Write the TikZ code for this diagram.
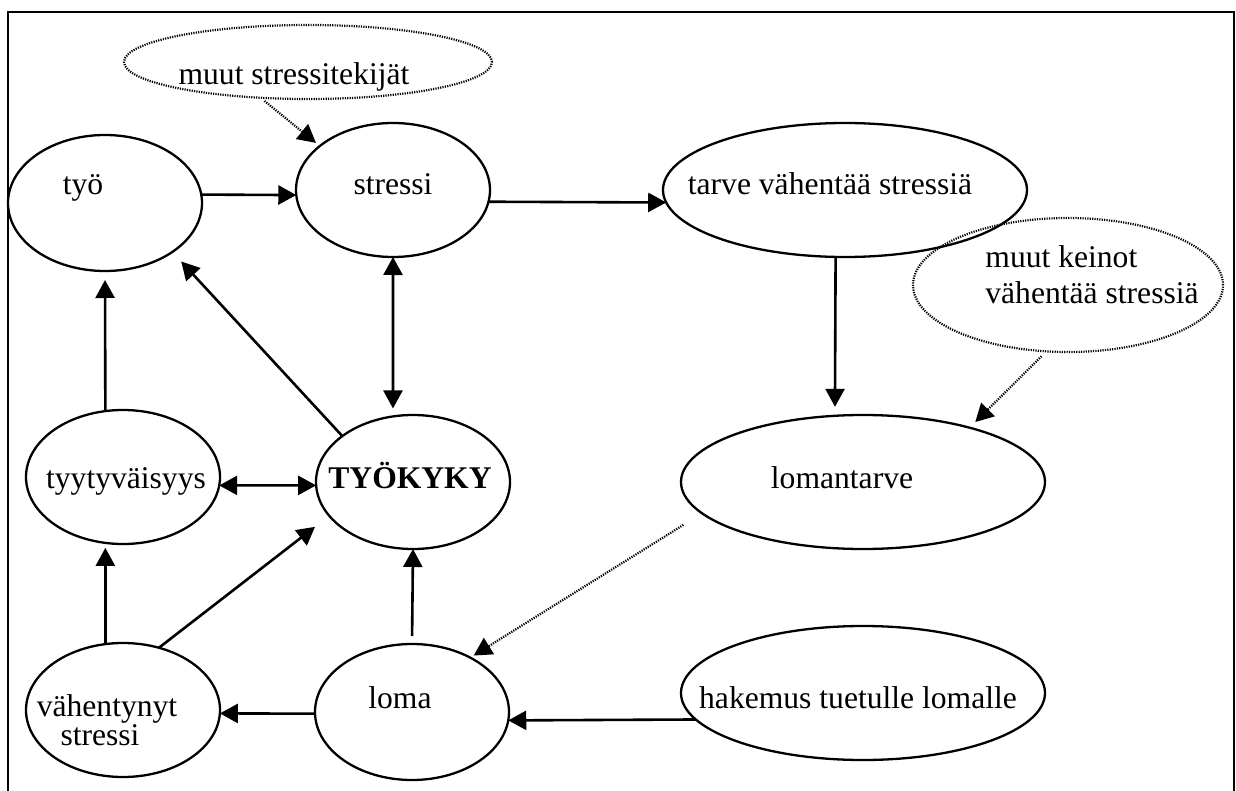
\documentclass[tikz,border=0pt]{standalone}
\usepackage{fontspec}
\setmainfont{Liberation Serif}
\usetikzlibrary{shapes.geometric,arrows.meta}
\newcommand\lbfont{\fontsize{15.8}{18}\selectfont}
\begin{document}
\begin{tikzpicture}[x=0.5pt,y=-0.5pt,
  bubble/.style={draw, ellipse, line width=1.15pt, inner sep=0pt, outer sep=0pt},
  dotbubble/.style={bubble, line width=1.1pt, dash pattern=on 0.6pt off 0.6pt},
  lbl/.style={anchor=base, inner sep=0pt, font=\lbfont},
  tip/.style={-{Triangle[length=9pt,width=9.5pt]}},
  arr/.style={line width=1.3pt, tip},
  darr/.style={line width=1.3pt, {Triangle[length=9pt,width=9.5pt]}-{Triangle[length=9pt,width=9.5pt]}},
  dotarr/.style={line width=1.1pt, dash pattern=on 0.6pt off 0.6pt, tip}]
\useasboundingbox (0,0) rectangle (1236,791);

% frame (open at the bottom edge of the page)
\draw[line width=1.1pt] (8,795) -- (8,12) -- (1234,12) -- (1234,795);

% ellipses
\node[dotbubble, minimum width=184pt, minimum height=37pt] (muut1) at (308,62) {};
\node[bubble, minimum width=97pt, minimum height=68pt] (tyo) at (105,203) {};
\node[bubble, minimum width=97pt, minimum height=67pt] (stressi) at (393,190) {};
\node[bubble, minimum width=182pt, minimum height=67pt] (tarve) at (845,190) {};
\node[dotbubble, minimum width=155pt, minimum height=67pt] (muut2) at (1068,285) {};
\node[bubble, minimum width=97pt, minimum height=67pt] (tyyt) at (123,477) {};
\node[bubble, minimum width=97pt, minimum height=67pt] (tyokyky) at (413,482) {};
\node[bubble, minimum width=182pt, minimum height=67pt] (lomantarve) at (863,482) {};
\node[bubble, minimum width=97pt, minimum height=67pt] (vahent) at (123,710) {};
\node[bubble, minimum width=97pt, minimum height=68pt] (loma) at (412,712) {};
\node[bubble, minimum width=182pt, minimum height=67pt] (hakemus) at (863,693) {};

% labels
\node[lbl] (tmuut1) at (294,85) {muut stressitekijät};
\node[lbl] (ttyo) at (83,195) {työ};
\node[lbl] (tstressi) at (393,195) {stressi};
\node[lbl] (ttarve) at (830,195) {tarve vähentää stressiä};
\node[lbl, anchor=base west] (tmuut2a) at (985,268) {muut keinot};
\node[lbl, anchor=base west] (tmuut2b) at (985,303) {vähentää stressiä};
\node[lbl] (ttyyt) at (126,488) {tyytyväisyys};
\node[lbl] (ttyokyky) at (410,488) {\bfseries TYÖKYKY};
\node[lbl] (tlomantarve) at (842,488) {lomantarve};
\node[lbl] (tvahenta) at (107,716) {vähentynyt};
\node[lbl] (tvahentb) at (100,745) {stressi};
\node[lbl] (tloma) at (400,708) {loma};
\node[lbl] (thakemus) at (858,708) {hakemus tuetulle lomalle};

% connectors
\draw[arr] (tyo.5) -- (stressi.183);
\draw[arr] (stressi.-7) -- (tarve.184);
\draw[dotarr, shorten <=2.5pt, shorten >=2.5pt] (muut1.217) -- (stressi.149);
\draw[darr, shorten >=4pt] (stressi.270) -- (tyokyky.107);
\draw[arr, shorten >=6.5pt] (tyokyky.147) -- (tyo.-36);
\draw[arr, shorten >=4.5pt] (tyyt.105) -- (tyo.270);
\draw[darr] (tyyt.-5) -- (tyokyky.182);
\draw[arr, shorten >=2.5pt] (vahent.105) -- (tyyt.255);
\draw[arr, shorten >=9pt] (vahent.60) -- (tyokyky.202);
\draw[arr, shorten <=4pt] (loma.90) -- (tyokyky.270);
\draw[arr] (loma.181) -- (vahent.358);
\draw[arr] (hakemus.189) -- (loma.-5);
\draw[arr, shorten >=4.5pt] (tarve.262) -- (lomantarve.113);
\draw[dotarr, shorten <=3.5pt, shorten >=4pt] (muut2.252) -- (lomantarve.27);
\draw[dotarr, shorten <=11pt, shorten >=2pt] (lomantarve.191) -- (loma.43);
\end{tikzpicture}
\end{document}
